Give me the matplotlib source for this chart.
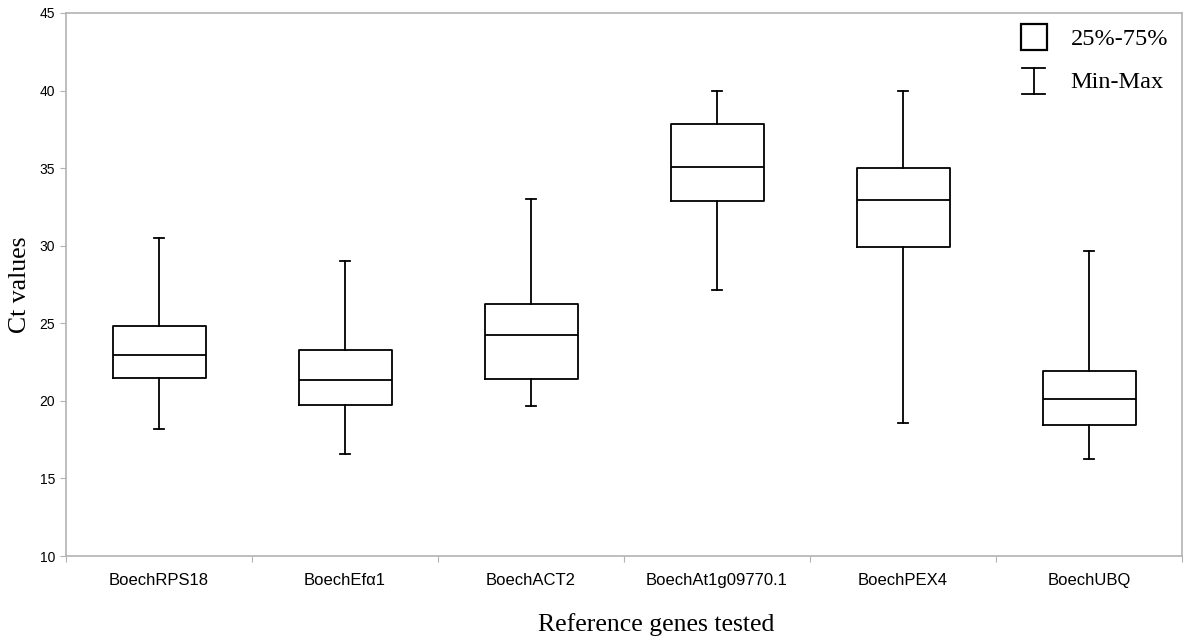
import numpy as np
import matplotlib
matplotlib.use('Agg')
import matplotlib.pyplot as plt
from matplotlib.lines import Line2D
from matplotlib.legend_handler import HandlerBase

genes = ['BoechRPS18', 'BoechEf\u03b11', 'BoechACT2', 'BoechAt1g09770.1', 'BoechPEX4', 'BoechUBQ']
ct_min = [18.2, 16.55, 19.7, 27.15, 18.6, 16.25]
ct_q1 = [21.5, 19.75, 21.4, 32.9, 29.9, 18.45]
ct_med = [22.95, 21.35, 24.25, 35.05, 32.95, 20.15]
ct_q3 = [24.85, 23.25, 26.25, 37.85, 35.0, 21.95]
ct_max = [30.5, 29.0, 33.0, 39.95, 40.0, 29.65]

grey = '#b3b3b3'
serif = ['Liberation Serif', 'DejaVu Serif']
sans = ['Liberation Sans', 'DejaVu Sans']


class WhiskerHandler(HandlerBase):
    # draws the little I shape used for Min-Max in the legend
    def create_artists(self, legend, orig_handle, xdescent, ydescent,
                       width, height, fontsize, trans):
        cx = width / 2 - xdescent
        h = 1.5 * height
        y0 = height / 2 - ydescent - h / 2 - 1
        y1 = y0 + h
        w = 1.35 * height
        kw = dict(color='black', lw=1.3, transform=trans)
        return [Line2D([cx, cx], [y0, y1], **kw),
                Line2D([cx - w / 2, cx + w / 2], [y0, y0], **kw),
                Line2D([cx - w / 2, cx + w / 2], [y1, y1], **kw)]


stats = []
for i in range(len(genes)):
    stats.append({'label': genes[i], 'whislo': ct_min[i], 'q1': ct_q1[i],
                  'med': ct_med[i], 'q3': ct_q3[i], 'whishi': ct_max[i], 'fliers': []})

fig = plt.figure(figsize=(12, 6.43), dpi=100)
ax = fig.add_axes([0.055, 0.1353, 0.93, 0.8445])

pos = np.arange(1, len(genes) + 1)
lp = dict(color='black', linewidth=1.3)
ax.bxp(stats, positions=pos, widths=0.5, capwidths=0.055, showfliers=False,
       boxprops=lp, whiskerprops=lp, capprops=lp, medianprops=lp)

ax.set_xlim(0.5, len(genes) + 0.5)
ax.set_ylim(10, 45)
ax.set_yticks(np.arange(10, 46, 5))
ax.set_xticks(np.arange(0.5, len(genes) + 1, 1))
ax.set_xticklabels([])
ax.set_xticks(pos, minor=True)
ax.set_xticklabels(genes, minor=True, fontsize=12, family=sans)
ax.tick_params(axis='x', which='minor', length=0, pad=12)
ax.tick_params(axis='x', which='major', length=4, color=grey)
ax.tick_params(axis='y', length=4, color=grey, labelsize=10, pad=4)
for lab in ax.get_yticklabels():
    lab.set_family(sans)
for s in ax.spines.values():
    s.set_color(grey)
    s.set_linewidth(1.2)

ax.set_ylabel('Ct values', fontsize=18.5, family=serif, labelpad=6)
ax.set_xlabel('Reference genes tested', fontsize=18.5, family=serif, labelpad=16)
ax.xaxis.set_label_coords(0.529, -0.105)

box_handle = Line2D([], [], marker='s', markersize=19, markerfacecolor='none',
                    markeredgecolor='black', markeredgewidth=1.6, linestyle='none')
whisk_handle = Line2D([], [])
leg = ax.legend([box_handle, whisk_handle], ['25%-75%', 'Min-Max'],
                handler_map={whisk_handle: WhiskerHandler()},
                loc='upper right', bbox_to_anchor=(1.007, 1.012), frameon=False,
                prop={'family': serif, 'size': 17.5}, handlelength=1.2,
                handletextpad=0.9, labelspacing=0.85)

fig.savefig('out.png', dpi=100)
